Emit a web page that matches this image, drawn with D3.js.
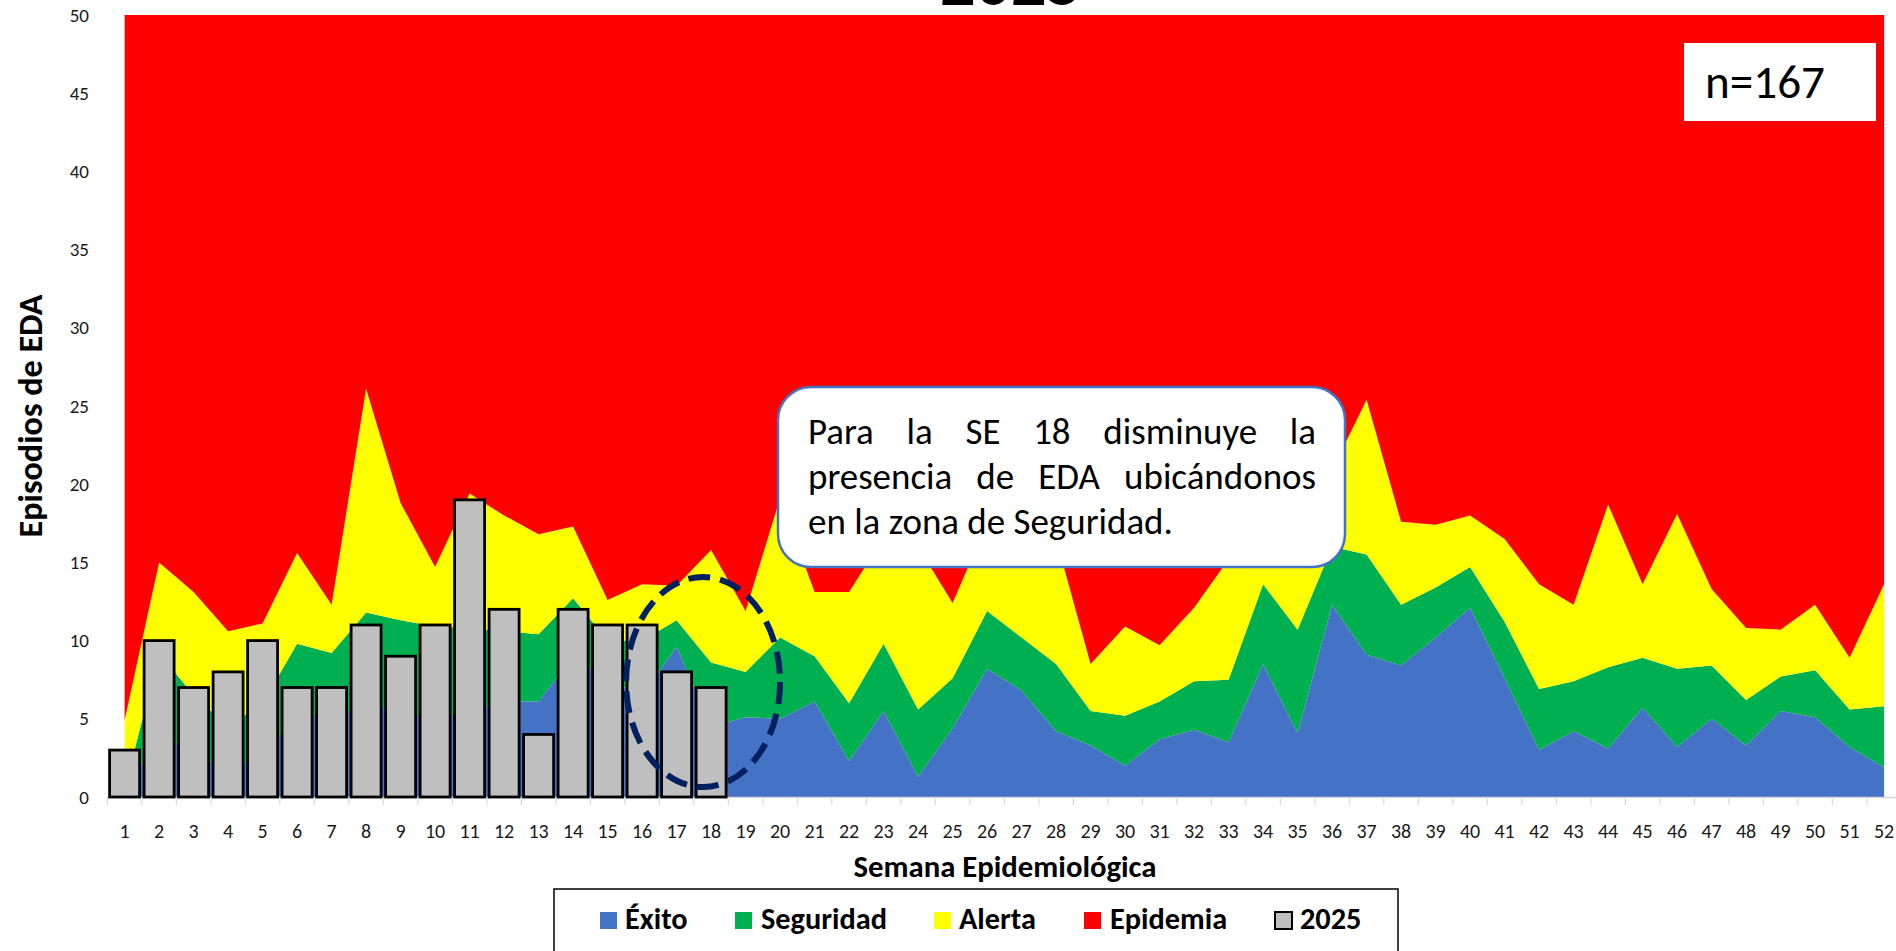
<!DOCTYPE html>
<html>
<head>
<meta charset="utf-8">
<script src="https://cdn.jsdelivr.net/npm/d3@7"></script>
<style>
  body { margin: 0; background: #fff; }
  svg { display: block; }
  text { font-family: Carlito, Calibri, Lato, sans-serif; }
</style>
</head>
<body>
<svg id="chart" width="1896" height="951"></svg>
<script>
// semanas epidemiologicas
var weeks = d3.range(1, 53);

// limite superior de cada zona del canal endemico (episodios)
var limExito = [0, 4.3, 2.5, 2.0, 2.5, 5.5, 5.0, 6.0, 5.5, 5.0, 5.5, 6.1, 6.1, 9.0, 7.5, 6.5, 9.6, 4.5, 5.1, 5.0,
  6.1, 2.3, 5.5, 1.3, 4.4, 8.2, 6.8, 4.2, 3.3, 2.0, 3.7, 4.3, 3.5, 8.5, 4.1, 12.3, 9.1, 8.4, 10.2, 12.1,
  7.6, 3.0, 4.2, 3.1, 5.7, 3.2, 5.0, 3.3, 5.5, 5.1, 3.2, 1.9];
var limSeguridad = [0.5, 9.2, 6.5, 4.5, 6.0, 9.8, 9.2, 11.8, 11.3, 10.9, 10.8, 10.6, 10.4, 12.7, 10.0, 10.0, 11.3, 8.6, 8.0, 10.2,
  9.0, 6.0, 9.8, 5.6, 7.6, 11.9, 10.2, 8.5, 5.5, 5.2, 6.1, 7.4, 7.5, 13.6, 10.7, 16.0, 15.5, 12.3, 13.4, 14.7,
  11.2, 6.9, 7.4, 8.3, 8.9, 8.2, 8.4, 6.2, 7.7, 8.1, 5.6, 5.8];
var limAlerta = [4.9, 15.0, 13.1, 10.6, 11.1, 15.6, 12.3, 26.1, 18.8, 14.7, 19.4, 18.0, 16.8, 17.3, 12.6, 13.6, 13.5, 15.8, 11.9, 19.1,
  13.1, 13.1, 16.6, 16.0, 12.4, 17.5, 17.0, 16.5, 8.5, 10.9, 9.7, 12.1, 15.2, 16.5, 18.5, 20.9, 25.4, 17.6, 17.4, 18.0,
  16.5, 13.6, 12.3, 18.7, 13.6, 18.1, 13.3, 10.8, 10.7, 12.3, 8.9, 13.6];
var limEpidemia = 50;

// episodios 2025 (SE 1 a 18)
var casos2025 = [3, 10, 7, 8, 10, 7, 7, 11, 9, 11, 19, 12, 4, 12, 11, 11, 8, 7];

var yTicks = d3.range(0, 55, 5);
var zonas = ["Éxito", "Seguridad", "Alerta", "Epidemia"];
var colores = ["#4472C4", "#00B050", "#FFFF00", "#FF0000"];

var svg = d3.select("#chart");

var x = d3.scaleBand().domain(weeks).range([107.35, 107.35 + 52 * 34.5]);
var xc = function(w) { return x(w) + x.bandwidth() / 2; };
var y = d3.scaleLinear().domain([0, 50]).range([797, 15]);

// scale a text so its width matches the reference
function fitWidth(sel, target) {
  var w = sel.node().getComputedTextLength();
  var fs = parseFloat(sel.attr("font-size"));
  var nfs = fs * target / w;
  sel.attr("font-size", nfs);
  return nfs;
}

// areas del canal endemico
var limits = [weeks.map(function() { return 0; }), limExito, limSeguridad, limAlerta,
  weeks.map(function() { return limEpidemia; })];

var gArea = svg.append("g").attr("class", "zonas");
zonas.forEach(function(z, i) {
  var area = d3.area()
    .x(function(d, j) { return xc(weeks[j]); })
    .y0(function(d, j) { return y(limits[i][j]); })
    .y1(function(d, j) { return y(limits[i + 1][j]); });
  gArea.append("path")
    .datum(weeks)
    .attr("d", area)
    .attr("fill", colores[i]);
});

// eje x
var xAxis = svg.append("g")
  .attr("transform", "translate(0,797)")
  .call(d3.axisBottom(x).tickSize(0).tickPadding(27));
xAxis.select(".domain").attr("stroke", "#D9D9D9").attr("stroke-width", 1.5);
xAxis.selectAll("text").attr("font-size", 20).attr("fill", "#1a1a1a")
  .style("font-family", "Carlito, Calibri, Lato, sans-serif");

svg.append("g").selectAll("line")
  .data(weeks.concat([53]))
  .enter().append("line")
  .attr("x1", function(w) { return w <= 52 ? x(w) : x(52) + x.bandwidth(); })
  .attr("x2", function(w) { return w <= 52 ? x(w) : x(52) + x.bandwidth(); })
  .attr("y1", 797).attr("y2", 805)
  .attr("stroke", "#D9D9D9").attr("stroke-width", 1.2);

// eje y
var yAxis = svg.append("g")
  .attr("transform", "translate(107,0)")
  .call(d3.axisLeft(y).tickValues(yTicks).tickSize(0).tickPadding(18));
yAxis.select(".domain").remove();
yAxis.selectAll("text").attr("font-size", 19).attr("fill", "#1a1a1a")
  .style("font-family", "Carlito, Calibri, Lato, sans-serif");

// barras 2025
var barW = x.bandwidth() * 0.87;
svg.append("g").selectAll("rect")
  .data(casos2025)
  .enter().append("rect")
  .attr("x", function(d, i) { return xc(weeks[i]) - barW / 2; })
  .attr("y", function(d) { return y(d); })
  .attr("width", barW)
  .attr("height", function(d) { return y(0) - y(d); })
  .attr("fill", "#BFBFBF")
  .attr("stroke", "#000")
  .attr("stroke-width", 2.8);

// ovalo punteado en SE 17-18
svg.append("ellipse")
  .attr("cx", xc(18) - 8).attr("cy", 682)
  .attr("rx", 77).attr("ry", 105)
  .attr("fill", "none")
  .attr("stroke", "#002060")
  .attr("stroke-width", 6)
  .attr("stroke-dasharray", "22 10");

// recuadro de comentario
svg.append("rect")
  .attr("x", 778).attr("y", 387)
  .attr("width", 567).attr("height", 180)
  .attr("rx", 33).attr("ry", 33)
  .attr("fill", "#fff")
  .attr("stroke", "#4472C4")
  .attr("stroke-width", 2.5);

var lineas = ["Para la SE 18 disminuye la", "presencia de EDA ubicándonos", "en la zona de Seguridad."];
var tx0 = 808, tx1 = 1316;
var probe = svg.append("text").attr("font-size", 34).text(lineas[2]);
var fsNote = fitWidth(probe, 365);
probe.remove();

lineas.forEach(function(l, li) {
  var t = svg.append("text")
    .attr("y", 444 + li * 45)
    .attr("font-size", fsNote)
    .attr("fill", "#000");
  var words = l.split(" ");
  if (li === lineas.length - 1) {
    t.attr("x", tx0).text(l);
    return;
  }
  var widths = words.map(function(wd) {
    var p = svg.append("text").attr("font-size", fsNote).text(wd);
    var w = p.node().getComputedTextLength();
    p.remove();
    return w;
  });
  var gap = (tx1 - tx0 - d3.sum(widths)) / (words.length - 1);
  var cx = tx0;
  words.forEach(function(wd, k) {
    t.append("tspan").attr("x", cx).text(wd);
    cx += widths[k] + gap;
  });
});

// n total
svg.append("rect")
  .attr("x", 1684).attr("y", 43)
  .attr("width", 192).attr("height", 78)
  .attr("fill", "#fff");
var nTxt = svg.append("text")
  .attr("x", 1705).attr("y", 98)
  .attr("font-size", 42)
  .attr("fill", "#000")
  .text("n=" + d3.sum(casos2025));
fitWidth(nTxt, 120);

// titulo (cortado en el borde superior, como en la imagen original)
var titulo = svg.append("text")
  .attr("x", 1011).attr("y", 5)
  .attr("text-anchor", "middle")
  .attr("font-size", 60)
  .attr("font-weight", "bold")
  .attr("fill", "#000")
  .text("2025");
fitWidth(titulo, 142);

// titulos de ejes
var yLab = svg.append("text")
  .attr("transform", "translate(42,416) rotate(-90)")
  .attr("text-anchor", "middle")
  .attr("font-size", 31)
  .attr("font-weight", "bold")
  .text("Episodios de EDA");
fitWidth(yLab, 243);

var xLab = svg.append("text")
  .attr("x", 1005).attr("y", 877)
  .attr("text-anchor", "middle")
  .attr("font-size", 28)
  .attr("font-weight", "bold")
  .text("Semana Epidemiológica");
fitWidth(xLab, 303);

// leyenda
svg.append("rect")
  .attr("x", 554).attr("y", 889)
  .attr("width", 844).attr("height", 80)
  .attr("fill", "#fff")
  .attr("stroke", "#000")
  .attr("stroke-width", 1.5);

var legItems = zonas.concat(["2025"]);
var legFill = colores.concat(["#BFBFBF"]);
var legSq = [600, 735, 934, 1084, 1275];
var legTx = [625, 761, 959, 1110, 1300];

var probeL = svg.append("text").attr("font-size", 28).attr("font-weight", "bold").text("Seguridad");
var fsLeg = fitWidth(probeL, 126);
probeL.remove();

legItems.forEach(function(it, i) {
  svg.append("rect")
    .attr("x", legSq[i]).attr("y", 912)
    .attr("width", 17).attr("height", 17)
    .attr("fill", legFill[i])
    .attr("stroke", i === 4 ? "#000" : "none")
    .attr("stroke-width", 2);
  svg.append("text")
    .attr("x", legTx[i]).attr("y", 929)
    .attr("font-size", fsLeg)
    .attr("font-weight", "bold")
    .attr("fill", "#000")
    .text(it);
});
</script>
</body>
</html>
